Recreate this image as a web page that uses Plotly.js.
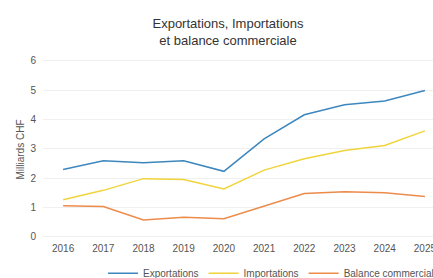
<!DOCTYPE html>
<html>
<head>
<meta charset="utf-8">
<script src="https://cdn.plot.ly/plotly-3.0.1.min.js"></script>
<style>
html,body{margin:0;padding:0;overflow:hidden;background:#fff;}
#chart{width:456px;height:286px;}
</style>
</head>
<body>
<div id="chart"></div>
<script>
const years = [2016, 2017, 2018, 2019, 2020, 2021, 2022, 2023, 2024, 2025];
const exportations = [2.29, 2.59, 2.52, 2.59, 2.23, 3.34, 4.16, 4.5, 4.63, 4.99];
const importations = [1.26, 1.58, 1.98, 1.95, 1.63, 2.27, 2.66, 2.94, 3.11, 3.61];
const balance = [1.05, 1.03, 0.57, 0.66, 0.61, 1.05, 1.47, 1.53, 1.5, 1.37];
const seriesNames = ['Exportations', 'Importations', 'Balance commerciale'];

const colors = ['#3d87be', '#f0d43a', '#ec8b4a'];
const data = [exportations, importations, balance].map((ys, i) => ({
  x: years, y: ys, type: 'scatter', mode: 'lines', name: seriesNames[i],
  line: {color: colors[i], width: 1.5}
}));

const layout = {
  width: 456, height: 286,
  margin: {l: 43, r: 11, t: 58, b: 45},
  paper_bgcolor: '#fff', plot_bgcolor: '#fff',
  font: {family: 'Liberation Sans, Arial, sans-serif', color: '#555', size: 10},
  title: {text: 'Exportations, Importations<br>et balance commerciale', x: 0.5, xanchor: 'center',
          yref: 'container', y: 0.902, yanchor: 'middle',
          font: {size: 13, color: '#333'}},
  xaxis: {range: [2015.5, 2025.5], tickvals: years, ticktext: years.map(String), showgrid: false, zeroline: false,
          showline: false, ticks: '', tickfont: {size: 10, color: '#555'}},
  yaxis: {range: [-0.15, 6.1], dtick: 1, tick0: 0, gridcolor: '#f0f0f0', zeroline: false, ticks: '',
          tickfont: {size: 10, color: '#555'}, ticklabelstandoff: 6,
          title: {text: 'Milliards CHF', font: {size: 10, color: '#555'}, standoff: 3}},
  legend: {orientation: 'h', x: 1.0, xanchor: 'right', yref: 'container', y: 0.045, yanchor: 'middle',
           font: {size: 10, color: '#555'}, itemwidth: 30},
  showlegend: true
};
Plotly.newPlot('chart', data, layout, {displayModeBar: false, staticPlot: true});
</script>
</body>
</html>
